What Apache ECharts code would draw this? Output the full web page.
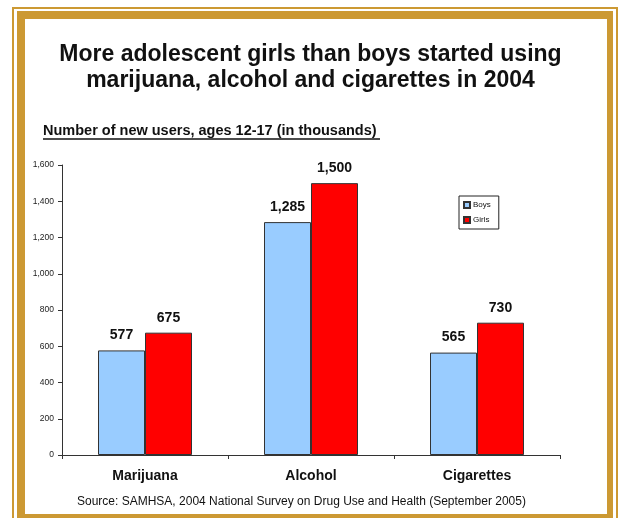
<!DOCTYPE html>
<html>
<head>
<meta charset="utf-8">
<script src="https://cdn.jsdelivr.net/npm/echarts@6/dist/echarts.min.js"></script>
<style>
  html, body { margin: 0; padding: 0; background: #fff; }
  #chart { width: 621px; height: 518px; }
</style>
</head>
<body>
<div id="chart"></div>
<script>
// 数据
const categories = ['Marijuana', 'Alcohol', 'Cigarettes']
const boys = [577, 1285, 565]
const girls = [675, 1500, 730]
const yTicks = { min: 0, max: 1600, interval: 200 }

const gold = '#CC9933'
const font = 'Arial, "Liberation Sans", sans-serif'
const fmt = v => Number(v).toLocaleString('en-US')

const chart = echarts.init(document.getElementById('chart'))

const option = {
  backgroundColor: '#fff',
  animation: false,
  title: {
    text: 'More adolescent girls than boys started using\nmarijuana, alcohol and cigarettes in 2004',
    left: 'center',
    top: 37,
    textStyle: { fontFamily: font, fontSize: 23, fontWeight: 'bold', color: '#111', lineHeight: 26 }
  },
  legend: {
    data: ['Boys', 'Girls'],
    orient: 'vertical',
    left: 459,
    top: 196,
    padding: [5, 8, 5, 4],
    itemGap: 7,
    itemWidth: 6,
    itemHeight: 6,
    icon: 'rect',
    borderColor: '#222',
    borderWidth: 1,
    textStyle: { fontFamily: font, fontSize: 8, color: '#111', padding: [0, 0, 0, -2] }
  },
  grid: { left: 62, right: 61, top: 165, bottom: 63 },
  xAxis: {
    type: 'category',
    data: categories,
    axisLine: { lineStyle: { color: '#333', width: 1 } },
    axisTick: { show: true, length: 4, lineStyle: { color: '#333' } },
    axisLabel: { fontFamily: font, fontSize: 14, fontWeight: 'bold', color: '#111', margin: 14 }
  },
  yAxis: {
    type: 'value',
    min: yTicks.min,
    max: yTicks.max,
    interval: yTicks.interval,
    splitLine: { show: false },
    axisLine: { show: true, lineStyle: { color: '#333', width: 1 } },
    axisTick: { show: true, length: 4, lineStyle: { color: '#333' } },
    axisLabel: { fontFamily: font, fontSize: 8.5, color: '#222', margin: 8, formatter: fmt }
  },
  series: [
    {
      name: 'Boys',
      type: 'bar',
      data: boys,
      barWidth: 47,
      barGap: '0%',
      itemStyle: { color: '#99CCFF', borderColor: '#333', borderWidth: 1 },
      label: {
        show: true, position: 'top', distance: 8,
        fontFamily: font, fontSize: 14, fontWeight: 'bold', color: '#111',
        formatter: p => fmt(p.value)
      }
    },
    {
      name: 'Girls',
      type: 'bar',
      data: girls,
      barWidth: 47,
      itemStyle: { color: '#FF0000', borderColor: '#333', borderWidth: 1 },
      label: {
        show: true, position: 'top', distance: 8,
        fontFamily: font, fontSize: 14, fontWeight: 'bold', color: '#111',
        formatter: p => fmt(p.value)
      }
    }
  ],
  graphic: [
    // 金色边框
    { type: 'rect', z: -10, shape: { x: 12, y: 7, width: 606, height: 520 }, style: { fill: gold } },
    { type: 'rect', z: -10, shape: { x: 14, y: 9, width: 602, height: 520 }, style: { fill: '#fff' } },
    { type: 'rect', z: -10, shape: { x: 17, y: 11, width: 596, height: 520 }, style: { fill: gold } },
    { type: 'rect', z: -10, shape: { x: 25, y: 19, width: 582, height: 495 }, style: { fill: '#fff' } },
    // 副标题 + 下划线
    {
      type: 'text', left: 43, top: 123,
      style: { text: 'Number of new users, ages 12-17 (in thousands)', font: 'bold 14.5px ' + font, fill: '#111' }
    },
    { type: 'line', shape: { x1: 43, y1: 139, x2: 380, y2: 139 }, style: { stroke: '#111', lineWidth: 1.5 } },
    // 来源
    {
      type: 'text', left: 77, top: 496,
      style: { text: 'Source: SAMHSA, 2004 National Survey on Drug Use and Health (September 2005)', font: '12px ' + font, fill: '#111' }
    }
  ]
}

chart.setOption(option)
</script>
</body>
</html>
